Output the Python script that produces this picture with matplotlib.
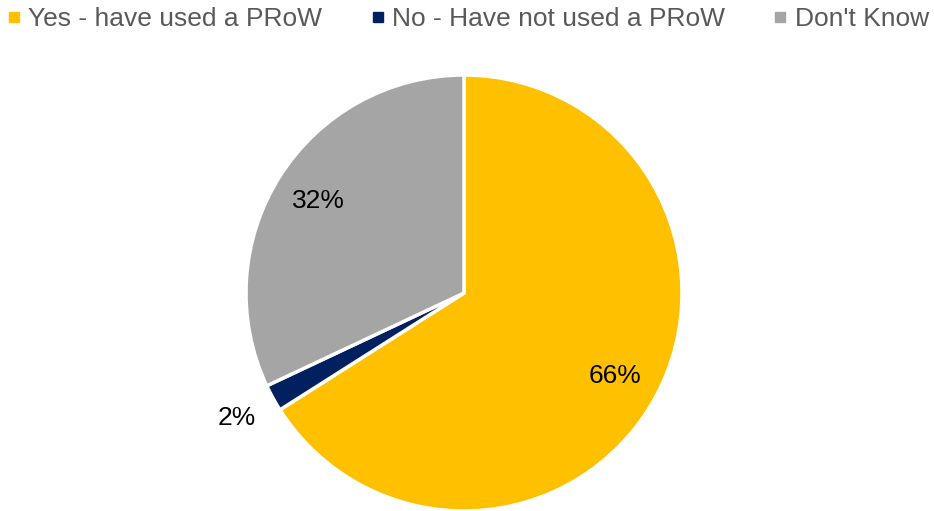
import matplotlib
matplotlib.use('Agg')
import matplotlib.pyplot as plt
from matplotlib.lines import Line2D
import numpy as np

plt.rcParams['font.family'] = ['Liberation Sans', 'DejaVu Sans']

labels = ['Yes - have used a PRoW', 'No - Have not used a PRoW', "Don't Know"]
values = [66, 2, 32]
colors = ['#FFC000', '#002060', '#A5A5A5']

fig = plt.figure(figsize=(9.34, 5.11), dpi=100)
ax = fig.add_axes([0.2634, 0.0, 0.4668, 0.8532])

wedges, texts, autotexts = ax.pie(values, colors=colors, startangle=90, counterclock=False,
                                  autopct='%d%%', pctdistance=0.79,
                                  wedgeprops=dict(edgecolor='white', linewidth=2.5),
                                  textprops=dict(fontsize=19, color='black'))
# small slice label sits outside
w = wedges[1]
mid = np.deg2rad((w.theta1 + w.theta2) / 2)
autotexts[1].set_position((1.19 * np.cos(mid), 1.19 * np.sin(mid)))
ax.set_xlim(-1, 1)
ax.set_ylim(-1, 1)
ax.set_aspect('equal')

handles = [Line2D([], [], marker='s', linestyle='', markersize=7, color=c) for c in colors]
leg = fig.legend(handles, labels, loc='upper left', bbox_to_anchor=(-0.025, 1.032), ncol=3,
                 frameon=False, fontsize=19, handletextpad=0.05, columnspacing=1.6,
                 handlelength=1.0)
for t in leg.get_texts():
    t.set_color('#595959')

fig.savefig('out.png', dpi=100)
